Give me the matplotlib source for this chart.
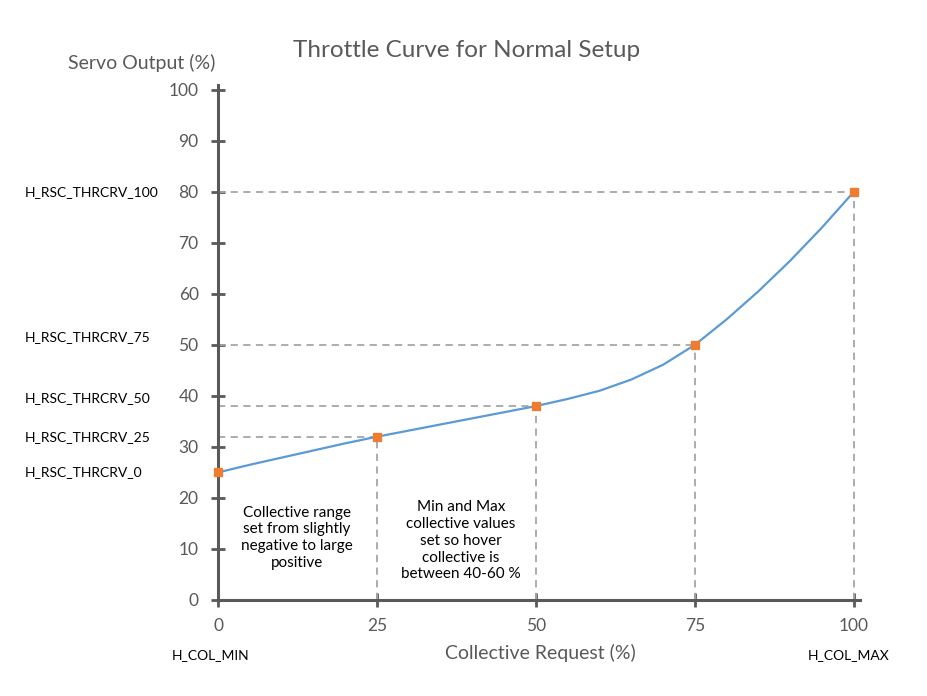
import numpy as np
import matplotlib.pyplot as plt
import matplotlib.transforms as mtransforms

plt.rcParams['font.family'] = ['Lato', 'DejaVu Sans']

# puntos de la curva (cada 5 %)
curve_x = [0, 5, 10, 15, 20, 25, 30, 35, 40, 45, 50, 55, 60, 65, 70, 75, 80, 85, 90, 95, 100]
curve_y = [25, 26.5, 27.9, 29.3, 30.7, 32, 33.2, 34.4, 35.6, 36.8, 38, 39.4, 41.0, 43.2, 46.1, 50, 55, 60.5, 66.5, 73, 80]

# puntos de ajuste
set_x = [0, 25, 50, 75, 100]
set_y = [25, 32, 38, 50, 80]
set_labels = ['H_RSC_THRCRV_0', 'H_RSC_THRCRV_25', 'H_RSC_THRCRV_50',
              'H_RSC_THRCRV_75', 'H_RSC_THRCRV_100']

x_ticks = [0, 25, 50, 75, 100]
y_ticks = [0, 10, 20, 30, 40, 50, 60, 70, 80, 90, 100]

gray = '#595959'

fig = plt.figure(figsize=(9.28, 6.96), dpi=100)
ax = fig.add_axes([0.235, 0.138, 0.685 * 101 / 100, 0.733 * 101 / 100])

for x, y in zip(set_x[1:], set_y[1:]):
    ax.plot([0, x], [y, y], ls=(0, (4, 3)), color='#a6a6a6', lw=1.3)
    ax.plot([x, x], [0, y], ls=(0, (4, 3)), color='#a6a6a6', lw=1.3)

ax.plot(curve_x, curve_y, color='#5b9bd5', lw=1.6)
ax.plot(set_x, set_y, 's', color='#ed7d31', ms=6, clip_on=False, zorder=5)

ax.set_xlim(0, 101)
ax.set_ylim(0, 101)
ax.set_xticks(x_ticks)
ax.set_yticks(y_ticks)
for s in ['top', 'right']:
    ax.spines[s].set_visible(False)
for s in ['left', 'bottom']:
    ax.spines[s].set_color(gray)
    ax.spines[s].set_linewidth(2.2)
ax.tick_params(direction='inout', length=10, width=2, color=gray,
               labelcolor=gray, labelsize=12.5)
ax.tick_params(axis='x', pad=8)
ax.tick_params(axis='y', pad=9)

fig.text(0.503, 0.928, 'Throttle Curve for Normal Setup', ha='center', va='center',
         fontsize=17.5, color=gray)
fig.text(0.153, 0.909, 'Servo Output (%)', ha='center', va='center', fontsize=14, color=gray)
fig.text(0.582, 0.062, 'Collective Request (%)', ha='center', va='center', fontsize=14, color=gray)

trans = mtransforms.blended_transform_factory(fig.transFigure, ax.transData)
label_pos = [25, 32, 39.5, 51.5, 80]
for lab, yp in zip(set_labels, label_pos):
    ax.text(0.027, yp, lab, transform=trans, ha='left', va='center', fontsize=10, color='black')

fig.text(0.227, 0.059, 'H_COL_MIN', ha='center', va='center', fontsize=10, color='black')
fig.text(0.915, 0.059, 'H_COL_MAX', ha='center', va='center', fontsize=10, color='black')

ax.text(12.4, 12.2, 'Collective range\nset from slightly\nnegative to large\npositive',
        ha='center', va='center', fontsize=11, linespacing=1.25)
ax.text(38.2, 11.6, 'Min and Max\ncollective values\nset so hover\ncollective is\nbetween 40-60 %',
        ha='center', va='center', fontsize=11, linespacing=1.25)

fig.savefig('out.png', dpi=100)
